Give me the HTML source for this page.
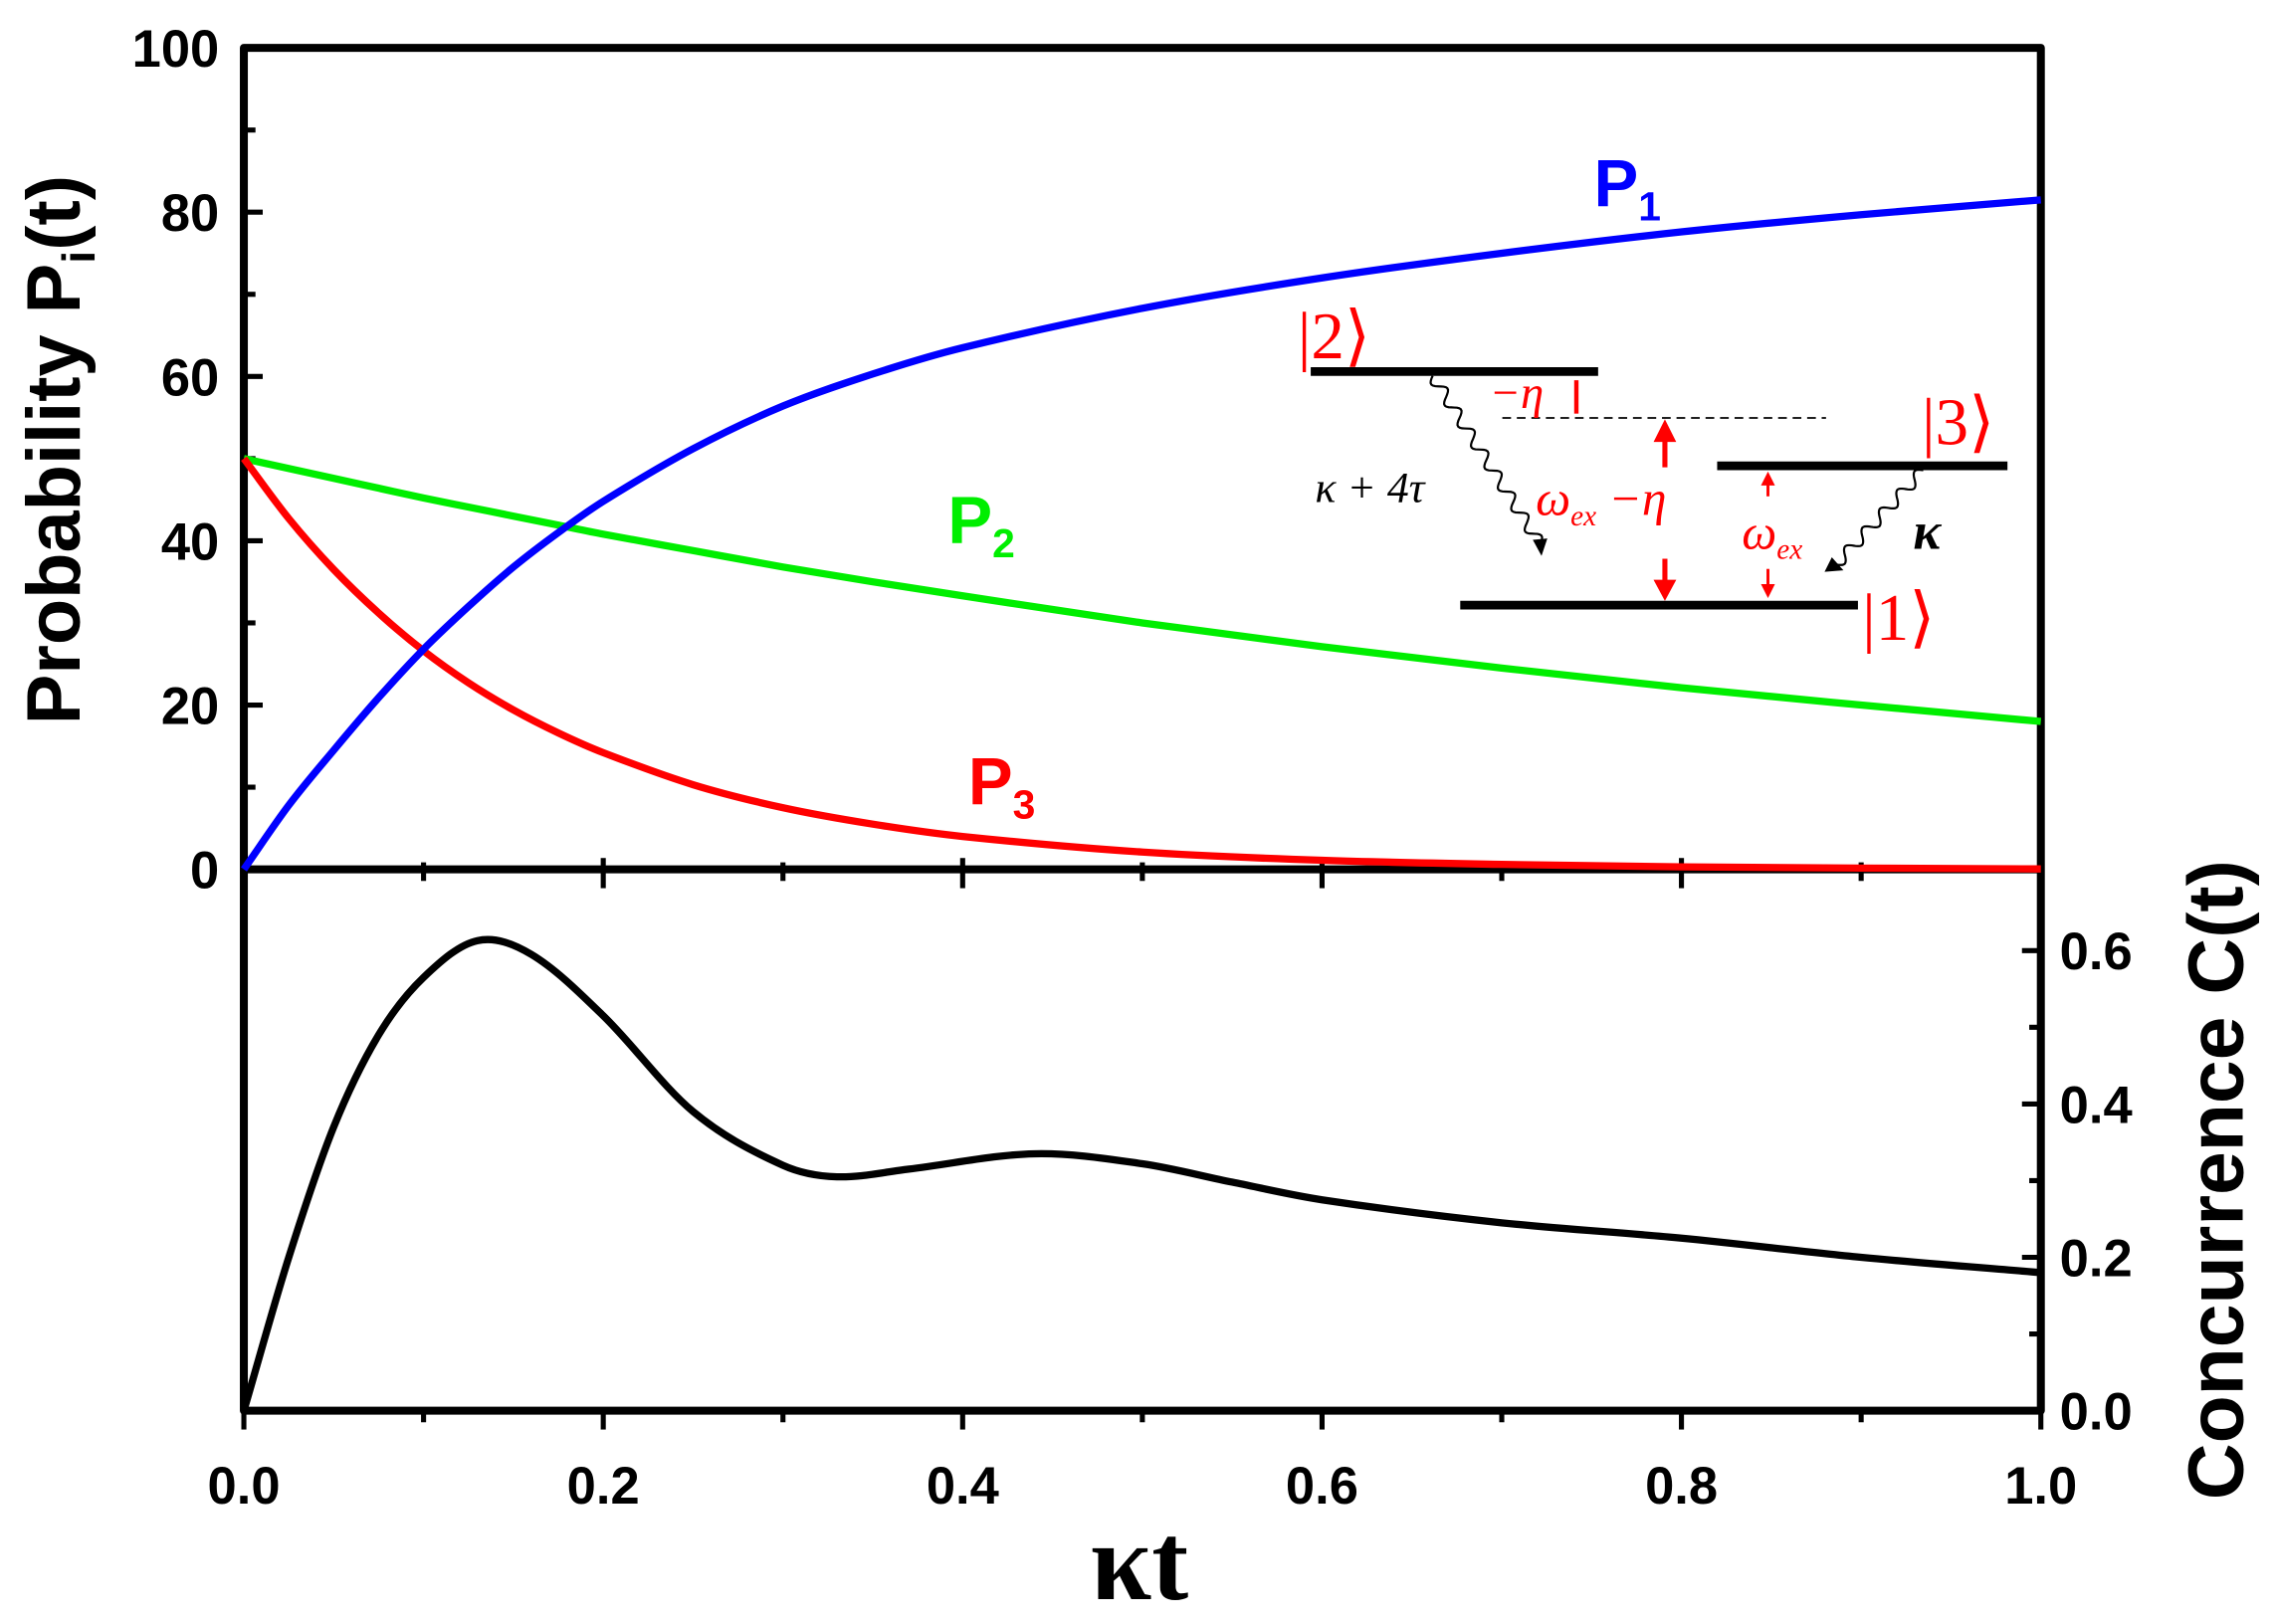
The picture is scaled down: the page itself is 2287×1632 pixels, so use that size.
<!DOCTYPE html>
<html><head><meta charset="utf-8"><style>
html,body{margin:0;padding:0;background:#fff;}
svg{display:block;}
.sans{font-family:"Liberation Sans",Arial,sans-serif;}
.serif{font-family:"Liberation Serif","DejaVu Serif",serif;}
</style></head><body>
<svg id="chart" xmlns="http://www.w3.org/2000/svg" width="2287" height="1632" viewBox="0 0 1568 1119" preserveAspectRatio="none">
<g id="axes"></g>
<g id="series"></g>
<g id="labels" class="sans">
  <text transform="translate(55,310) rotate(-90)" text-anchor="middle" font-size="52" font-weight="bold">Probability P<tspan font-size="32" dy="10">i</tspan><tspan dy="-10">(t)</tspan></text>
  <text transform="translate(1545,813) rotate(-90)" text-anchor="middle" font-size="54" font-weight="bold">Concurrence C(t)</text>
  <text class="serif" x="785" y="1102" text-anchor="middle" font-size="76" font-weight="bold">κt</text>
  <text x="1098" y="142" font-size="46" font-weight="bold" fill="#0000ff">P<tspan font-size="28" dy="10">1</tspan></text>
  <text x="653" y="374" font-size="46" font-weight="bold" fill="#00ee00">P<tspan font-size="28" dy="10">2</tspan></text>
  <text x="667" y="554" font-size="46" font-weight="bold" fill="#ff0000">P<tspan font-size="28" dy="10">3</tspan></text>
</g>
<g id="inset" class="serif">
  <line x1="903" y1="256" x2="1101" y2="256" stroke="#000" stroke-width="6"/>
  <line x1="1183" y1="321" x2="1383" y2="321" stroke="#000" stroke-width="6"/>
  <line x1="1006" y1="417" x2="1280" y2="417" stroke="#000" stroke-width="6"/>
  <line x1="1035" y1="288" x2="1258" y2="288" stroke="#000" stroke-width="1.2" stroke-dasharray="6,4"/>
  <text x="894" y="247" font-size="46" fill="#ff0000">|2⟩</text>
  <text x="1324" y="306" font-size="46" fill="#ff0000">|3⟩</text>
  <text x="1283" y="441" font-size="46" fill="#ff0000">|1⟩</text>
  <text x="1026" y="281" font-size="32" font-style="italic" fill="#ff0000">−η</text>
  <line x1="1086" y1="262" x2="1086" y2="285" stroke="#ff0000" stroke-width="3"/>
  <text x="906" y="346" font-size="30" font-style="italic">κ + 4τ</text>
  <text x="1058" y="355" font-size="34" font-style="italic" fill="#ff0000">ω<tspan font-size="20" dy="7">ex</tspan><tspan dy="-7"> −η</tspan></text>
  <text x="1200" y="378" font-size="34" font-style="italic" fill="#ff0000">ω<tspan font-size="20" dy="7">ex</tspan></text>
  <text x="1318" y="378" font-size="36" font-style="italic" font-weight="bold">κ</text>
  <g fill="#ff0000" stroke="#ff0000">
    <line x1="1147" y1="302" x2="1147" y2="322" stroke-width="3.5"/><polygon points="1140,304 1154,304 1147,290"/>
    <line x1="1147" y1="385" x2="1147" y2="402" stroke-width="3.5"/><polygon points="1140,400 1154,400 1147,413"/>
  </g>
  <g fill="#ff0000" stroke="#ff0000">
    <line x1="1218" y1="333" x2="1218" y2="342" stroke-width="2"/><polygon points="1214,334 1222,334 1218,326"/>
    <line x1="1218" y1="392" x2="1218" y2="404" stroke-width="2"/><polygon points="1214,403 1222,403 1218,411"/>
  </g>
  <path d="" id="wav1" fill="none" stroke="#000" stroke-width="1.5"/>
  <path d="" id="wav2" fill="none" stroke="#000" stroke-width="1.5"/>
  <polygon points="1056,372 1066,371 1062,383"/>
  <polygon points="1262,384 1270,393 1257,394"/>
</g>
</svg>
<script>
// data
const xTicks = [0, 0.2, 0.4, 0.6, 0.8, 1.0];
const xTickLabels = ["0.0","0.2","0.4","0.6","0.8","1.0"];
const pTicks = [0, 20, 40, 60, 80, 100];
const pTickLabels = ["0","20","40","60","80","100"];
const cTicks = [0, 0.2, 0.4, 0.6];
const cTickLabels = ["0.0","0.2","0.4","0.6"];
const tP = [0, 0.025, 0.05, 0.075, 0.1, 0.125, 0.15, 0.175, 0.2, 0.25, 0.3, 0.35, 0.4, 0.5, 0.6, 0.7, 0.8, 0.9, 1.0];
const p1 = [0, 7.8, 14.5, 20.9, 26.8, 32, 36.8, 41, 44.8, 51.2, 56.4, 60.3, 63.5, 68.3, 72, 75, 77.6, 79.7, 81.5];
const p2 = [50, 48.8, 47.6, 46.4, 45.2, 44.1, 43, 41.9, 40.8, 38.8, 36.8, 35, 33.3, 30, 27.1, 24.5, 22.1, 20, 18];
const p3 = [50, 42.7, 36.5, 31.2, 26.6, 22.7, 19.4, 16.6, 14.2, 10.3, 7.5, 5.5, 4.0, 2.1, 1.1, 0.6, 0.3, 0.15, 0.05];
const tC = [0, 0.025, 0.05, 0.075, 0.1, 0.13, 0.16, 0.2, 0.25, 0.3, 0.33, 0.37, 0.44, 0.5, 0.55, 0.6, 0.7, 0.8, 0.9, 1.0];
const conc = [0, 0.2, 0.37, 0.49, 0.565, 0.613, 0.595, 0.515, 0.39, 0.32, 0.305, 0.315, 0.335, 0.322, 0.298, 0.275, 0.245, 0.225, 0.2, 0.18];

const NS = "http://www.w3.org/2000/svg";
const L = 168, R = 1406, T = 33, M = 599, B = 972;
const xs = v => L + v * (R - L);
const yP = v => M - v / 100 * (M - T);
const yC = v => B - v / 0.6 * (B - 655);
function mk(tag, attrs, parent) {
  const e = document.createElementNS(NS, tag);
  for (const k in attrs) e.setAttribute(k, attrs[k]);
  parent.appendChild(e);
  return e;
}
const axes = document.getElementById('axes');
const series = document.getElementById('series');
const lab = document.getElementById('labels');

const frame = mk('path', {d:`M${L},${T} H${R} V${B} H${L} Z M${L},${M} H${R}`, fill:'none', stroke:'#000', 'stroke-width':5.5, 'stroke-linejoin':'round'}, axes);



for (let i = 0; i <= 10; i++) {
  const v = i / 10, major = i % 2 === 0, x = xs(v);
  const len = major ? 13 : 8;
  const t1 = mk('line', {x1:x, y1:B, x2:x, y2:B+len, stroke:'#000', 'stroke-width':3.5}, axes);
  
  
  const t2 = mk('line', {x1:x, y1:M-len*0.6, x2:x, y2:M+len, stroke:'#000', 'stroke-width':3.5}, axes);
  
  
}
xTicks.forEach((v, i) => {
  const t = mk('text', {x:xs(v), y:1036, 'text-anchor':'middle', 'font-size':36, 'font-weight':'bold'}, lab);
  t.textContent = xTickLabels[i];
  
  
});
for (let v = 0; v <= 100; v += 10) {
  const major = v % 20 === 0;
  const tk = mk('line', {x1:L, y1:yP(v), x2:L + (major ? 13 : 8), y2:yP(v), stroke:'#000', 'stroke-width':3.5}, axes);
  
  
}
pTicks.forEach((v, i) => {
  const t = mk('text', {x:151, y:yP(v) + 13, 'text-anchor':'end', 'font-size':36, 'font-weight':'bold'}, lab);
  t.textContent = pTickLabels[i];
  
  
});
for (let k = 0; k <= 6; k++) {
  const v = k / 10, major = k % 2 === 0;
  const tk = mk('line', {x1:R, y1:yC(v), x2:R - (major ? 13 : 8), y2:yC(v), stroke:'#000', 'stroke-width':3.5}, axes);
  
  
}
cTicks.forEach((v, i) => {
  const t = mk('text', {x:1419, y:yC(v) + 13, 'text-anchor':'start', 'font-size':36, 'font-weight':'bold'}, lab);
  t.textContent = cTickLabels[i];
  
  
});

// cubic Hermite with non-uniform tangents
function smooth(pts) {
  const n = pts.length, m = [];
  for (let i = 0; i < n; i++) {
    const a = pts[Math.max(i-1,0)], b = pts[Math.min(i+1,n-1)];
    m.push((b[1]-a[1])/(b[0]-a[0]));
  }
  let d = `M${pts[0][0]},${pts[0][1]}`;
  for (let i = 0; i < n - 1; i++) {
    const p = pts[i], q = pts[i+1], h = (q[0]-p[0])/3;
    d += ` C${p[0]+h},${p[1]+m[i]*h} ${q[0]-h},${q[1]-m[i+1]*h} ${q[0]},${q[1]}`;
  }
  return d;
}
function line(ts, vals, yf, color, name) {
  const pts = ts.map((t, i) => [xs(t), yf(vals[i])]);
  const p = mk('path', {d:smooth(pts), fill:'none', stroke:color, 'stroke-width':5, 'stroke-linejoin':'round'}, series);
  
  
}
line(tP, p2, yP, '#00ee00', 'series-p2');
line(tP, p3, yP, '#ff0000', 'series-p3');
line(tP, p1, yP, '#0000ff', 'series-p1');
line(tC, conc, yC, '#000000', 'series-concurrence');

function wavy(x1, y1, x2, y2, n, amp) {
  const dx = x2-x1, dy = y2-y1, len = Math.hypot(dx, dy), ux = dx/len, uy = dy/len;
  let d = '';
  for (let i = 0; i <= 120; i++) {
    const s = i/120, w = amp*Math.sin(s*n*2*Math.PI);
    const x = x1 + dx*s - uy*w, y = y1 + dy*s + ux*w;
    d += (i ? ' L' : 'M') + x.toFixed(1) + ',' + y.toFixed(1);
  }
  return d;
}
document.getElementById('wav1').setAttribute('d', wavy(987, 259, 1061, 375, 8, 4));
document.getElementById('wav2').setAttribute('d', wavy(1325, 324, 1265, 389, 5, 4));
</script>
</body></html>
